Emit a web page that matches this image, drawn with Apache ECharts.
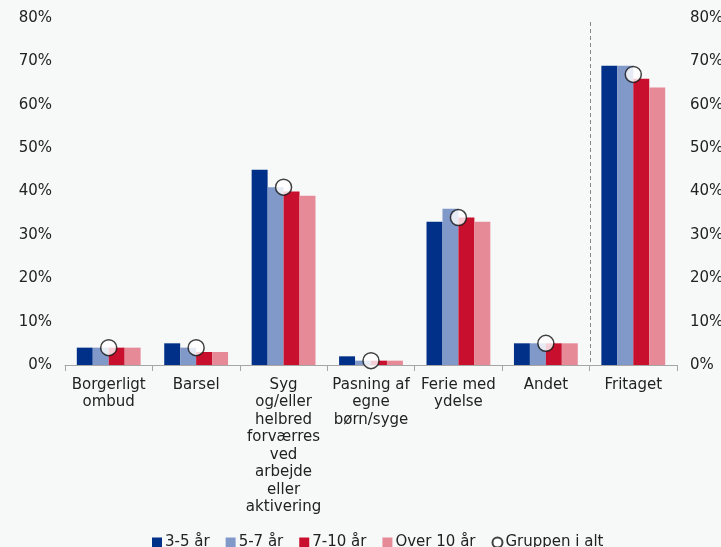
<!DOCTYPE html>
<html>
<head>
<meta charset="utf-8">
<script src="https://cdn.jsdelivr.net/npm/echarts@6/dist/echarts.min.js"></script>
<style>
  html, body { margin: 0; padding: 0; background: #f7f9f9; }
  #container { width: 721px; height: 547px; }
</style>
</head>
<body>
<div id="container"></div>
<script>
var categories = [
    'Borgerligt\nombud',
    'Barsel',
    'Syg\nog/eller\nhelbred\nforværres\nved\narbejde\neller\naktivering',
    'Pasning af\negne\nbørn/syge',
    'Ferie med\nydelse',
    'Andet',
    'Fritaget'
];

// procent
var aar3til5 = [4, 5, 45, 2, 33, 5, 69];
var aar5til7 = [4, 4, 41, 1, 36, 5, 69];
var aar7til10 = [4, 3, 40, 1, 34, 5, 66];
var over10 = [4, 3, 39, 1, 33, 5, 64];
var gruppenIAlt = [4, 4, 41, 1, 34, 5, 67];

var yTicks = { min: 0, max: 80, interval: 10 };

var font = '"DejaVu Sans", Verdana, sans-serif';

var dom = document.getElementById('container');
var myChart = echarts.init(dom, null, { renderer: 'canvas' });

function barSeries(name, data, color) {
    return {
        name: name,
        type: 'bar',
        data: data,
        barGap: 0,
        barCategoryGap: '27%',
        itemStyle: { color: color },
        emphasis: { disabled: true }
    };
}

function yAxis(position) {
    return {
        type: 'value',
        position: position,
        min: yTicks.min,
        max: yTicks.max,
        interval: yTicks.interval,
        axisLine: { show: false },
        axisTick: { show: false },
        splitLine: { show: false },
        axisLabel: {
            formatter: '{value}%',
            color: '#222',
            fontSize: 15,
            fontFamily: font,
            margin: 13
        }
    };
}

var option = {
    backgroundColor: '#f7f9f9',
    animation: false,
    grid: { left: 65, right: 44, top: 18, bottom: 182, outerBoundsMode: 'none', containLabel: false },
    legend: {
        top: 530,
        left: 147,
        itemWidth: 10,
        itemHeight: 10,
        itemGap: 16,
        textStyle: { color: '#222', fontSize: 15, fontFamily: font, padding: [0, 0, 0, -2] },
        data: [
            { name: '3-5 år', icon: 'rect' },
            { name: '5-7 år', icon: 'rect' },
            { name: '7-10 år', icon: 'rect' },
            { name: 'Over 10 år', icon: 'rect' },
            { name: 'Gruppen i alt', icon: 'circle' }
        ]
    },
    xAxis: {
        type: 'category',
        data: categories,
        axisLine: { lineStyle: { color: '#a6a6a6' } },
        axisTick: { show: true, length: 6, lineStyle: { color: '#a6a6a6' } },
        splitLine: { show: false },
        axisLabel: {
            interval: 0,
            color: '#222',
            fontSize: 15,
            fontFamily: font,
            lineHeight: 17.5,
            margin: 11
        }
    },
    yAxis: [yAxis('left'), yAxis('right')],
    series: [
        barSeries('3-5 år', aar3til5, '#003087'),
        barSeries('5-7 år', aar5til7, '#8099c8'),
        barSeries('7-10 år', aar7til10, '#c8102e'),
        barSeries('Over 10 år', over10, '#e68a98'),
        {
            name: 'Gruppen i alt',
            type: 'scatter',
            data: gruppenIAlt,
            symbol: 'circle',
            symbolSize: 16,
            itemStyle: { color: '#ffffff', borderColor: '#111', borderWidth: 1.5 },
            z: 5
        }
    ]
};

myChart.setOption(option);

// stiplet skillelinje mellem Andet og Fritaget
var xA = myChart.convertToPixel({ xAxisIndex: 0 }, 'Andet');
var xF = myChart.convertToPixel({ xAxisIndex: 0 }, 'Fritaget');
var xSep = Math.round((xA + xF) / 2) + 0.5;
var yBottom = myChart.convertToPixel({ yAxisIndex: 0 }, 0);
myChart.setOption({
    graphic: [{
        type: 'line',
        shape: { x1: xSep, y1: 22, x2: xSep, y2: yBottom },
        style: { stroke: '#888', lineWidth: 1, lineDash: [4, 3] },
        z: 1,
        silent: true
    }]
});
</script>
</body>
</html>
